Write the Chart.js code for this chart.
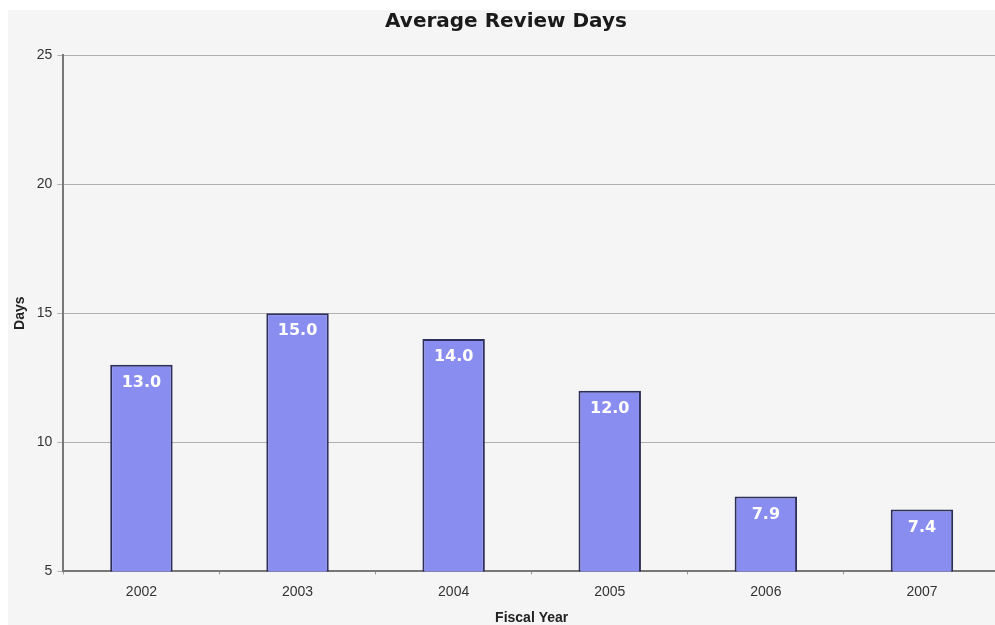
<!DOCTYPE html>
<html>
<head>
<meta charset="utf-8">
<script src="https://cdn.jsdelivr.net/npm/chart.js@4.4.0/dist/chart.umd.min.js"></script>
<style>
  html, body { margin: 0; padding: 0; background: #fff; overflow: hidden; }
  #wrap { position: relative; width: 1005px; height: 625px; }
</style>
</head>
<body>
<div id="wrap"><canvas id="myChart" width="1005" height="625"></canvas></div>
<script>
var years = ["2002", "2003", "2004", "2005", "2006", "2007"];
var reviewDays = [13.0, 15.0, 14.0, 12.0, 7.9, 7.4];
var yTicks = [5, 10, 15, 20, 25];

var tickFont = { family: '"Liberation Sans", Arial, sans-serif', size: 14 };
var axisTitleFont = { family: '"Liberation Sans", Arial, sans-serif', size: 14, weight: 'bold' };

// grey panel behind the chart, leaving a thin white strip left and top
var panelBg = {
  id: 'panelBg',
  beforeDraw: function(chart) {
    var c = chart.ctx;
    c.save();
    c.fillStyle = '#f5f5f5';
    c.fillRect(8, 10, chart.width - 8, chart.height - 10);
    c.restore();
  }
};

// white value labels inside the top of each bar
var barLabels = {
  id: 'barLabels',
  afterDatasetsDraw: function(chart) {
    var c = chart.ctx;
    var meta = chart.getDatasetMeta(0);
    c.save();
    c.font = 'bold 16px "DejaVu Sans", sans-serif';
    c.fillStyle = '#ffffff';
    c.textAlign = 'center';
    c.textBaseline = 'middle';
    meta.data.forEach(function(bar, i) {
      c.fillText(reviewDays[i].toFixed(1), bar.x, bar.y + 18);
    });
    c.restore();
  }
};

var ctx = document.getElementById('myChart').getContext('2d');
var myChart = new Chart(ctx, {
  type: 'bar',
  data: {
    labels: years,
    datasets: [{
      label: 'Average Review Days',
      data: reviewDays,
      backgroundColor: '#8a8df0',
      borderColor: '#2e2f5a',
      borderWidth: 2,
      borderSkipped: 'bottom',
      categoryPercentage: 1.0,
      barPercentage: 0.4
    }]
  },
  options: {
    responsive: false,
    animation: false,
    layout: { padding: { left: 12, top: 0, right: 5, bottom: -2 } },
    plugins: {
      legend: { display: false },
      tooltip: { enabled: false },
      title: {
        display: true,
        text: 'Average Review Days',
        color: '#1a1a1a',
        font: { family: '"DejaVu Sans", sans-serif', size: 20, weight: 'bold' },
        padding: { top: 10, bottom: 21 }
      }
    },
    scales: {
      x: {
        offset: true,
        grid: {
          display: true,
          offset: true,
          drawOnChartArea: false,
          drawTicks: true,
          tickLength: 3,
          color: '#999'
        },
        border: { color: '#777', width: 2 },
        ticks: {
          color: '#333',
          padding: 9,
          font: tickFont
        },
        title: {
          display: true,
          text: 'Fiscal Year',
          color: '#222',
          padding: { top: 1, bottom: 0 },
          font: axisTitleFont
        }
      },
      y: {
        min: yTicks[0],
        max: yTicks[yTicks.length - 1],
        afterBuildTicks: function(axis) {
          axis.ticks = yTicks.map(function(v) { return { value: v }; });
        },
        grid: {
          color: '#b0b0b0',
          lineWidth: 1,
          tickLength: 6
        },
        border: { color: '#777', width: 2 },
        ticks: {
          color: '#333',
          padding: 5,
          font: tickFont
        },
        title: {
          display: true,
          text: 'Days',
          color: '#222',
          padding: { top: 0, bottom: 3 },
          font: axisTitleFont
        }
      }
    }
  },
  plugins: [panelBg, barLabels]
});
</script>
</body>
</html>
